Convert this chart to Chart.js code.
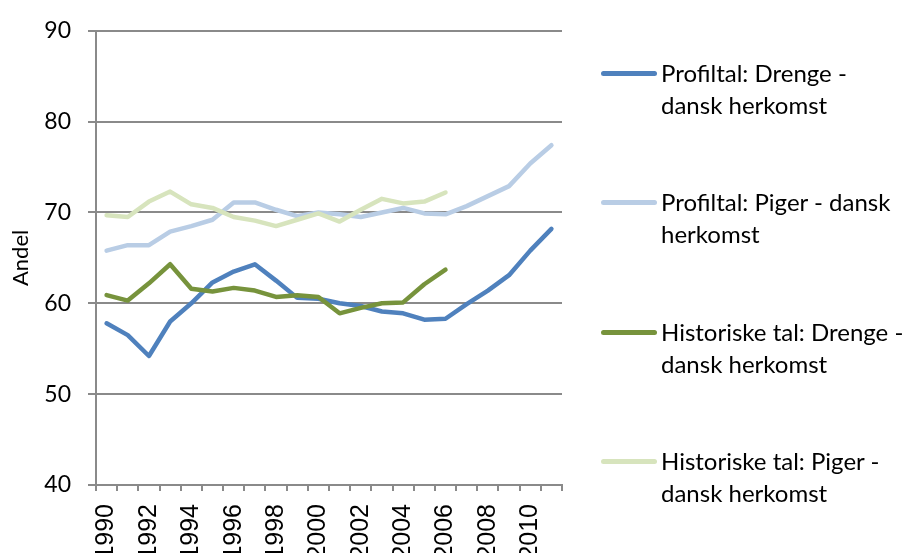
<!DOCTYPE html>
<html>
<head>
<meta charset="utf-8">
<script src="https://cdn.jsdelivr.net/npm/chart.js@4"></script>
<style>
  html, body { margin: 0; padding: 0; background: #fff; overflow: hidden; }
  #wrap { position: relative; width: 909px; height: 553px; overflow: hidden; }
  #box { position: absolute; left: 0; top: 0; width: 909px; height: 600px; }
  #legend { position: absolute; left: 0; top: 0; font-family: Lato, "Open Sans", sans-serif; font-size: 24px; color: #000; }
  .item { position: absolute; left: 601px; line-height: 32px; }
  .swatch { position: absolute; left: 0; top: 14px; width: 56px; height: 5px; border-radius: 3px; }
  .txt { position: absolute; left: 60px; top: 0; width: 248px; }
</style>
</head>
<body>
<div id="wrap">
  <div id="box"><canvas id="chart"></canvas></div>
  <div id="legend"></div>
</div>
<script>
const years = ["1990","1991","1992","1993","1994","1995","1996","1997","1998","1999","2000",
  "2001","2002","2003","2004","2005","2006","2007","2008","2009","2010","2011"];

const seriesNames = [
  "Profiltal: Drenge - dansk herkomst",
  "Profiltal: Piger - dansk herkomst",
  "Historiske tal: Drenge - dansk herkomst",
  "Historiske tal: Piger - dansk herkomst"
];
const seriesColors = ["#4F81BD", "#B9CDE5", "#77933C", "#D7E4BD"];

const profilDrenge = [57.8, 56.5, 54.2, 58.0, 60.0, 62.3, 63.5, 64.3, 62.5, 60.6, 60.5,
  60.0, 59.7, 59.1, 58.9, 58.2, 58.3, 59.9, 61.4, 63.1, 65.8, 68.2];
const profilPiger = [65.8, 66.4, 66.4, 67.9, 68.5, 69.2, 71.1, 71.1, 70.3, 69.6, 70.0,
  69.8, 69.5, 70.0, 70.5, 69.9, 69.8, 70.7, 71.8, 72.9, 75.4, 77.4];
const histDrenge = [60.9, 60.3, 62.2, 64.3, 61.6, 61.3, 61.7, 61.4, 60.7, 60.9, 60.7,
  58.9, 59.5, 60.0, 60.1, 62.1, 63.7, null, null, null, null, null];
const histPiger = [69.7, 69.5, 71.2, 72.3, 70.9, 70.5, 69.5, 69.1, 68.5, 69.2, 69.9,
  69.0, 70.3, 71.5, 71.0, 71.2, 72.2, null, null, null, null, null];

const yMin = 40, yMax = 90, yStep = 10;

const allSeries = [profilDrenge, profilPiger, histDrenge, histPiger];

// later series are drawn on top, like the original
const datasets = allSeries.map((vals, i) => ({
  label: seriesNames[i],
  data: vals,
  borderColor: seriesColors[i],
  backgroundColor: seriesColors[i],
  borderWidth: 4.5,
  borderCapStyle: "round",
  borderJoinStyle: "round",
  pointRadius: 0,
  tension: 0,
  spanGaps: false,
  order: allSeries.length - i
}));

const gridColor = "#8a8a8a";

new Chart(document.getElementById("chart"), {
  type: "line",
  data: { labels: years, datasets: datasets },
  options: {
    responsive: true,
    maintainAspectRatio: false,
    animation: false,
    layout: { padding: { left: 0, top: 26, right: 347, bottom: 0 } },
    plugins: {
      legend: { display: false },
      tooltip: { enabled: false }
    },
    scales: {
      x: {
        offset: true,
        afterFit: s => { s.height = 115; },
        grid: {
          offset: true,
          drawOnChartArea: false,
          color: gridColor,
          lineWidth: 2,
          tickLength: 6
        },
        border: { color: gridColor, width: 2 },
        ticks: {
          autoSkip: false,
          minRotation: 90,
          maxRotation: 90,
          padding: 13,
          color: "#000",
          font: { family: "'Liberation Sans', Arial, sans-serif", size: 25 },
          callback: function (val, i) { return i % 2 === 0 ? this.getLabelForValue(val) : ""; }
        }
      },
      y: {
        min: yMin,
        max: yMax,
        afterFit: s => { s.width = 96; },
        grid: { color: gridColor, lineWidth: 2, tickLength: 8 },
        border: { color: gridColor, width: 2 },
        ticks: { stepSize: yStep, padding: 17, color: "#000", font: { family: "Lato, 'Open Sans', sans-serif", size: 23 } },
        title: {
          display: true,
          text: "Andel",
          color: "#000",
          font: { family: "Lato, 'Open Sans', sans-serif", size: 22 },
          padding: { top: 8, bottom: 0 }
        }
      }
    }
  }
});

// legend with wrapped labels, placed beside the plot
const legend = document.getElementById("legend");
const legendTops = [57, 186, 316, 445];
seriesNames.forEach((name, i) => {
  const item = document.createElement("div");
  item.className = "item";
  item.style.top = legendTops[i] + "px";
  const sw = document.createElement("div");
  sw.className = "swatch";
  sw.style.background = seriesColors[i];
  const t = document.createElement("div");
  t.className = "txt";
  t.textContent = name;
  item.appendChild(sw);
  item.appendChild(t);
  legend.appendChild(item);
});
</script>
</body>
</html>
